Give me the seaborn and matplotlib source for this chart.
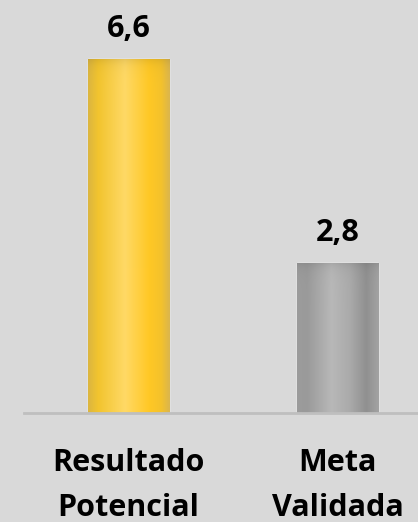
import numpy as np
import seaborn as sns
import matplotlib.pyplot as plt
from matplotlib.colors import LinearSegmentedColormap

categories = ['Resultado\nPotencial', 'Meta\nValidada']
values = [6.6, 2.8]
value_labels = ['6,6', '2,8']
bar_colors = ['#f5c832', '#a8a8a8']
gradients = [
    [(0, '#dcb640'), (0.12, '#f2c42e'), (0.45, '#ffd966'),
     (0.75, '#ffc825'), (0.9, '#f4c22c'), (1, '#dcb64c')],
    [(0, '#9c9c9c'), (0.12, '#9a9a9a'), (0.42, '#b8b8b8'),
     (0.65, '#aaaaaa'), (0.85, '#909090'), (1, '#a2a2a2')],
]

bg = '#d9d9d9'
sns.set_style('white')
plt.rcParams['font.family'] = ['Open Sans', 'DejaVu Sans']

fig = plt.figure(figsize=(4.18, 5.22), dpi=100, facecolor=bg)
ax = fig.add_axes([24 / 418, 109 / 522, 394 / 418, 413 / 522])
ax.set_facecolor(bg)

sns.barplot(x=categories, y=values, hue=categories, palette=bar_colors,
            width=0.39, legend=False, ax=ax)

# gradient fill on top of each bar
px_per_unit = 53.7
for patch, stops in zip(ax.patches, gradients):
    x0, w, h = patch.get_x(), patch.get_width(), patch.get_height()
    cmap = LinearSegmentedColormap.from_list('g', stops)
    cols = cmap(np.linspace(0, 1, 100))[:, :3]
    rows = 300
    dist = np.linspace(0, h, rows) * px_per_unit  # distance from top in px
    shade = 1 - 0.10 * np.exp(-dist / 6)
    img = cols[None, :, :] * shade[:, None, None]
    im = ax.imshow(img, extent=[x0, x0 + w, 0, h], aspect='auto',
                   zorder=patch.get_zorder() + 0.1, origin='upper')
    im.set_clip_path(patch)

for patch, lab in zip(ax.patches, value_labels):
    ax.text(patch.get_x() + patch.get_width() / 2, patch.get_height() + 0.40,
            lab, ha='center', va='baseline', fontsize=22, fontweight='bold',
            color='black')

ax.set_xlim(-0.5, 1.385)
ax.set_ylim(0, 7.69)
ax.set_yticks([])
for s in ['top', 'left', 'right']:
    ax.spines[s].set_visible(False)
ax.spines['bottom'].set_color('#bfbfbf')
ax.spines['bottom'].set_linewidth(2)
ax.tick_params(axis='x', length=0, pad=25.5, labelcolor='black')
for t in ax.get_xticklabels():
    t.set_fontsize(22)
    t.set_fontweight('bold')
    t.set_linespacing(1.62)
ax.set_xlabel('')
ax.set_ylabel('')

plt.savefig('out.png', dpi=100, facecolor=bg)
